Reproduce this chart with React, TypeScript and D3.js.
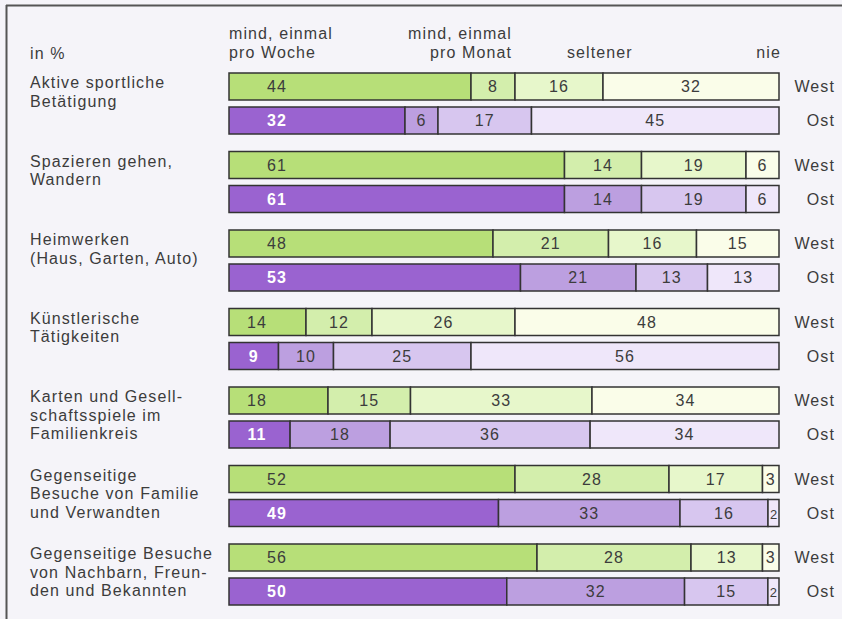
import React from "react";
import * as d3 from "d3";

const categories: string[][] = [
  ["Aktive sportliche", "Betätigung"],
  ["Spazieren gehen,", "Wandern"],
  ["Heimwerken", "(Haus, Garten, Auto)"],
  ["Künstlerische", "Tätigkeiten"],
  ["Karten und Gesell-", "schaftsspiele im", "Familienkreis"],
  ["Gegenseitige", "Besuche von Familie", "und Verwandten"],
  ["Gegenseitige Besuche", "von Nachbarn, Freun-", "den und Bekannten"],
];

const westValues: number[][] = [
  [44, 8, 16, 32],
  [61, 14, 19, 6],
  [48, 21, 16, 15],
  [14, 12, 26, 48],
  [18, 15, 33, 34],
  [52, 28, 17, 3],
  [56, 28, 13, 3],
];

const ostValues: number[][] = [
  [32, 6, 17, 45],
  [61, 14, 19, 6],
  [53, 21, 13, 13],
  [9, 10, 25, 56],
  [11, 18, 36, 34],
  [49, 33, 16, 2],
  [50, 32, 15, 2],
];

const regions = ["West", "Ost"];
const unitLabel = "in %";
const westColors = ["#b7df78", "#d3eeac", "#e7f7cb", "#fafde9"];
const ostColors = ["#9a63d0", "#bc9fe0", "#d7c6ef", "#efe7fa"];

const FONT = "'Liberation Sans', Arial, Helvetica, sans-serif";
const TEXT = "#3c3c3c";

export default function App() {
  const W = 842;
  const H = 619;
  const x = d3.scaleLinear().domain([0, 100]).range([229, 779]);
  const groupY = d3.scaleLinear().domain([0, categories.length - 1]).range([73, 544]);
  const barH = 27;
  const ostOff = 34;
  const fs = 16;
  const ls = 1.1;

  const renderBar = (vals: number[], colors: string[], top: number, isOst: boolean, key: string) => {
    const total = d3.sum(vals);
    let cum = 0;
    return (
      <g key={key}>
        {vals.map((v, j) => {
          const x0 = x((cum / total) * 100);
          cum += v;
          const x1 = x((cum / total) * 100);
          const w = x1 - x0;
          let cx = x0 + w / 2;
          if (j === 0) cx = x0 + Math.min(w / 2, w <= 100 ? 28 : 48);
          const small = w < 14;
          return (
            <g key={j}>
              <rect x={x0} y={top} width={w} height={barH} fill={colors[j]} stroke="#333" strokeWidth={1.5} />
              <text
                x={cx}
                y={top + barH / 2 + 5.5}
                textAnchor="middle"
                fontFamily={FONT}
                fontSize={small ? 13 : fs}
                letterSpacing={small ? 0 : ls}
                fill={j === 0 && isOst ? "#ffffff" : TEXT}
                fontWeight={j === 0 && isOst ? "bold" : "normal"}
              >
                {v}
              </text>
            </g>
          );
        })}
        <text x={835} y={top + barH / 2 + 5.5} textAnchor="end" fontFamily={FONT} fontSize={fs} letterSpacing={ls} fill={TEXT}>
          {isOst ? regions[1] : regions[0]}
        </text>
      </g>
    );
  };

  return (
    <svg width={W} height={H} style={{ position: "absolute", left: 0, top: 0, background: "#f5f4f9" }}>
      <rect x={0} y={0} width={W} height={H} fill="#f5f4f9" />
      <line x1={6} y1={5.5} x2={W} y2={5.5} stroke="#555" strokeWidth={2} />
      <line x1={6.5} y1={5} x2={6.5} y2={H} stroke="#555" strokeWidth={2} />

      <g fontFamily={FONT} fontSize={fs} letterSpacing={ls} fill={TEXT}>
        <text x={30} y={59}>{unitLabel}</text>
        <text x={229} y={39}>mind, einmal</text>
        <text x={229} y={58}>pro Woche</text>
        <text x={512} y={39} textAnchor="end">mind, einmal</text>
        <text x={512} y={58} textAnchor="end">pro Monat</text>
        <text x={567} y={58}>seltener</text>
        <text x={781} y={58} textAnchor="end">nie</text>
      </g>

      {categories.map((lines, i) => {
        const top = groupY(i);
        return (
          <g key={i}>
            <text fontFamily={FONT} fontSize={fs} letterSpacing={ls} fill={TEXT}>
              {lines.map((l, k) => (
                <tspan key={k} x={30} y={top + 15 + k * 18.5}>
                  {l}
                </tspan>
              ))}
            </text>
            {renderBar(westValues[i], westColors, top, false, "w" + i)}
            {renderBar(ostValues[i], ostColors, top + ostOff, true, "o" + i)}
          </g>
        );
      })}
    </svg>
  );
}
